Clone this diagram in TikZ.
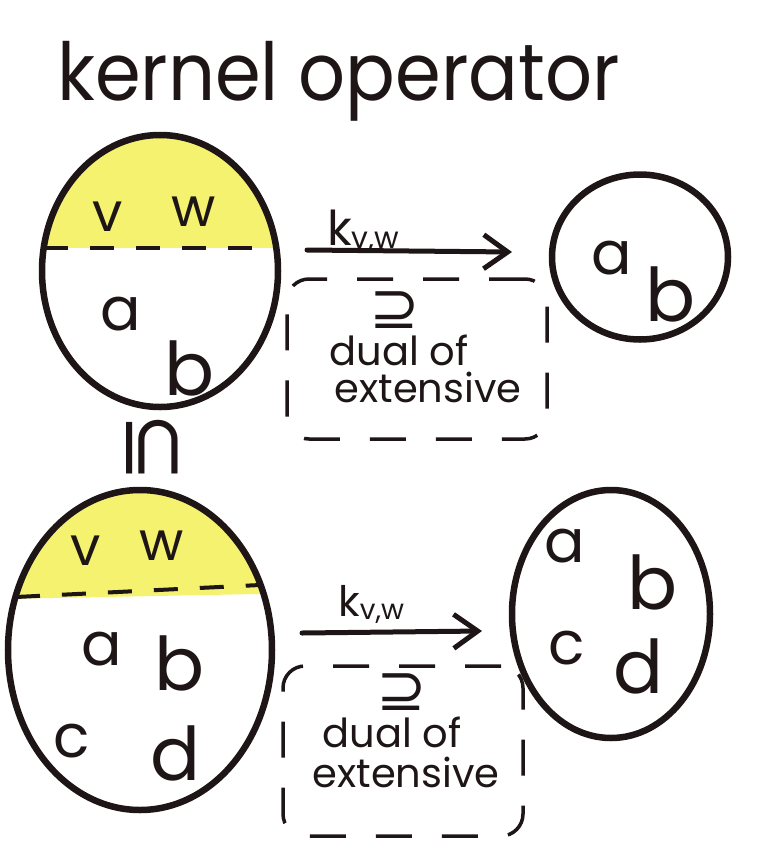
\documentclass[tikz,border=0pt]{standalone}
\usepackage{fontspec}
\setmainfont{Poppins}
\newfontfamily\symfont{DejaVu Sans}
\usetikzlibrary{arrows.meta,shapes.geometric}
\definecolor{hl}{RGB}{244,242,110}
\definecolor{ink}{RGB}{30,22,22}
\begin{document}
\begin{tikzpicture}[x=1pt,y=-1pt,
  setshape/.style={draw=ink, line width=6.5pt, ellipse, inner sep=0pt},
  divider/.style={draw=ink, line width=4pt, dash pattern=on 24pt off 22pt},
  mapto/.style={draw=ink, line width=5pt, line cap=round, -{Straight Barb[length=24pt,width=34pt,line width=5pt]}},
  notebox/.style={draw=ink, line width=3.5pt, rounded corners=22pt, dash pattern=on 36pt off 30pt, inner sep=0pt},
  ltr/.style={text=ink, font=\fontsize{60}{60}\selectfont, inner sep=0pt},
  tall/.style={text=ink, font=\fontsize{74}{74}\selectfont, inner sep=0pt},
  vw/.style={text=ink, font=\fontsize{54}{54}\selectfont, inner sep=0pt},
  note/.style={text=ink, font=\fontsize{40}{42}\selectfont, inner sep=0pt, anchor=base},
  lab/.style={text=ink, font=\fontsize{48}{48}\selectfont, inner sep=0pt, anchor=base west},
  sym/.style={text=ink, font=\symfont\fontsize{60}{60}\selectfont, inner sep=0pt},
]
\useasboundingbox (0,0) rectangle (774,868);

% title
\node[anchor=base west, text=ink, font=\fontsize{80}{80}\selectfont, inner sep=0pt, xscale=0.92] (title) at (57,100) {kernel operator};

% ---- top left set
\begin{scope}
\clip (160,271) ellipse [x radius=118pt, y radius=136pt];
\fill[hl] (0,100) rectangle (774,248);
\end{scope}
\node[setshape, minimum width=236pt, minimum height=272pt] (S1) at (160,271) {};
\coordinate (d1l) at (44,248);
\coordinate (d1r) at (276,248);
\draw[divider] (d1l) -- (d1r);
\node[vw] (v1) at (108,217) {v};
\node[vw] (w1) at (194,212) {w};
\node[ltr] (a1) at (121,314) {a};
\node[tall] (b1) at (190,368) {b};

% ---- top right set
\node[setshape, minimum width=176pt, minimum height=165pt] (T1) at (640,257) {};
\node[ltr] (a2) at (612,258) {a};
\node[tall] (b2) at (671,294) {b};

% arrow 1
\coordinate (A1s) at (307,250);
\coordinate (A1e) at (512,252);
\draw[mapto] (A1s) -- (A1e);
\node[lab] (k1) at (327,245) {k\raisebox{-3pt}{\fontsize{30}{30}\selectfont v,w}};

% note box 1
\node[notebox, minimum width=260pt, minimum height=160pt] (B1) at (417,359) {};
\node[sym] (sup1) at (395,310) {⊇};
\node[note] (n1a) at (399,365) {dual of};
\node[note] (n1b) at (428,402) {extensive};

% subset sign between the sets
\node[text=ink, font=\symfont\fontsize{84}{84}\selectfont, inner sep=0pt, rotate=-90] (sub) at (152,448) {⊆};

% ---- bottom left set
\begin{scope}
\clip (140,650) ellipse [x radius=132pt, y radius=160pt];
\fill[hl] (0,480) -- (774,480) -- (774,584) -- (0,599) -- cycle;
\end{scope}
\node[setshape, minimum width=264pt, minimum height=320pt] (S2) at (140,650) {};
\coordinate (d2l) at (16,597);
\coordinate (d2r) at (260,585);
\draw[divider] (d2l) -- (d2r);
\node[vw] (v3) at (86,551) {v};
\node[vw] (w3) at (162,546) {w};
\node[ltr] (a3) at (102,649) {a};
\node[tall] (b3) at (180,663) {b};
\node[ltr] (c3) at (72,741) {c};
\node[tall] (d3) at (176,753) {d};

% ---- bottom right set
\node[setshape, minimum width=198pt, minimum height=248pt] (T2) at (611,614) {};
\node[ltr] (a4) at (565,546) {a};
\node[tall] (b4) at (653,582) {b};
\node[ltr] (c4) at (567,648) {c};
\node[tall] (d4) at (639,666) {d};

% arrow 2
\coordinate (A2s) at (302,633);
\coordinate (A2e) at (482,631);
\draw[mapto] (A2s) -- (A2e);
\node[lab, font=\fontsize{42}{42}\selectfont] (k2) at (338,616) {k\raisebox{-3pt}{\fontsize{28}{28}\selectfont v,w}};

% note box 2
\node[notebox, minimum width=240pt, minimum height=170pt] (B2) at (403,751) {};
\node[sym] (sup2) at (402,692) {⊇};
\node[note] (n2a) at (392,747) {dual of};
\node[note] (n2b) at (406,787) {extensive};
\end{tikzpicture}
\end{document}
